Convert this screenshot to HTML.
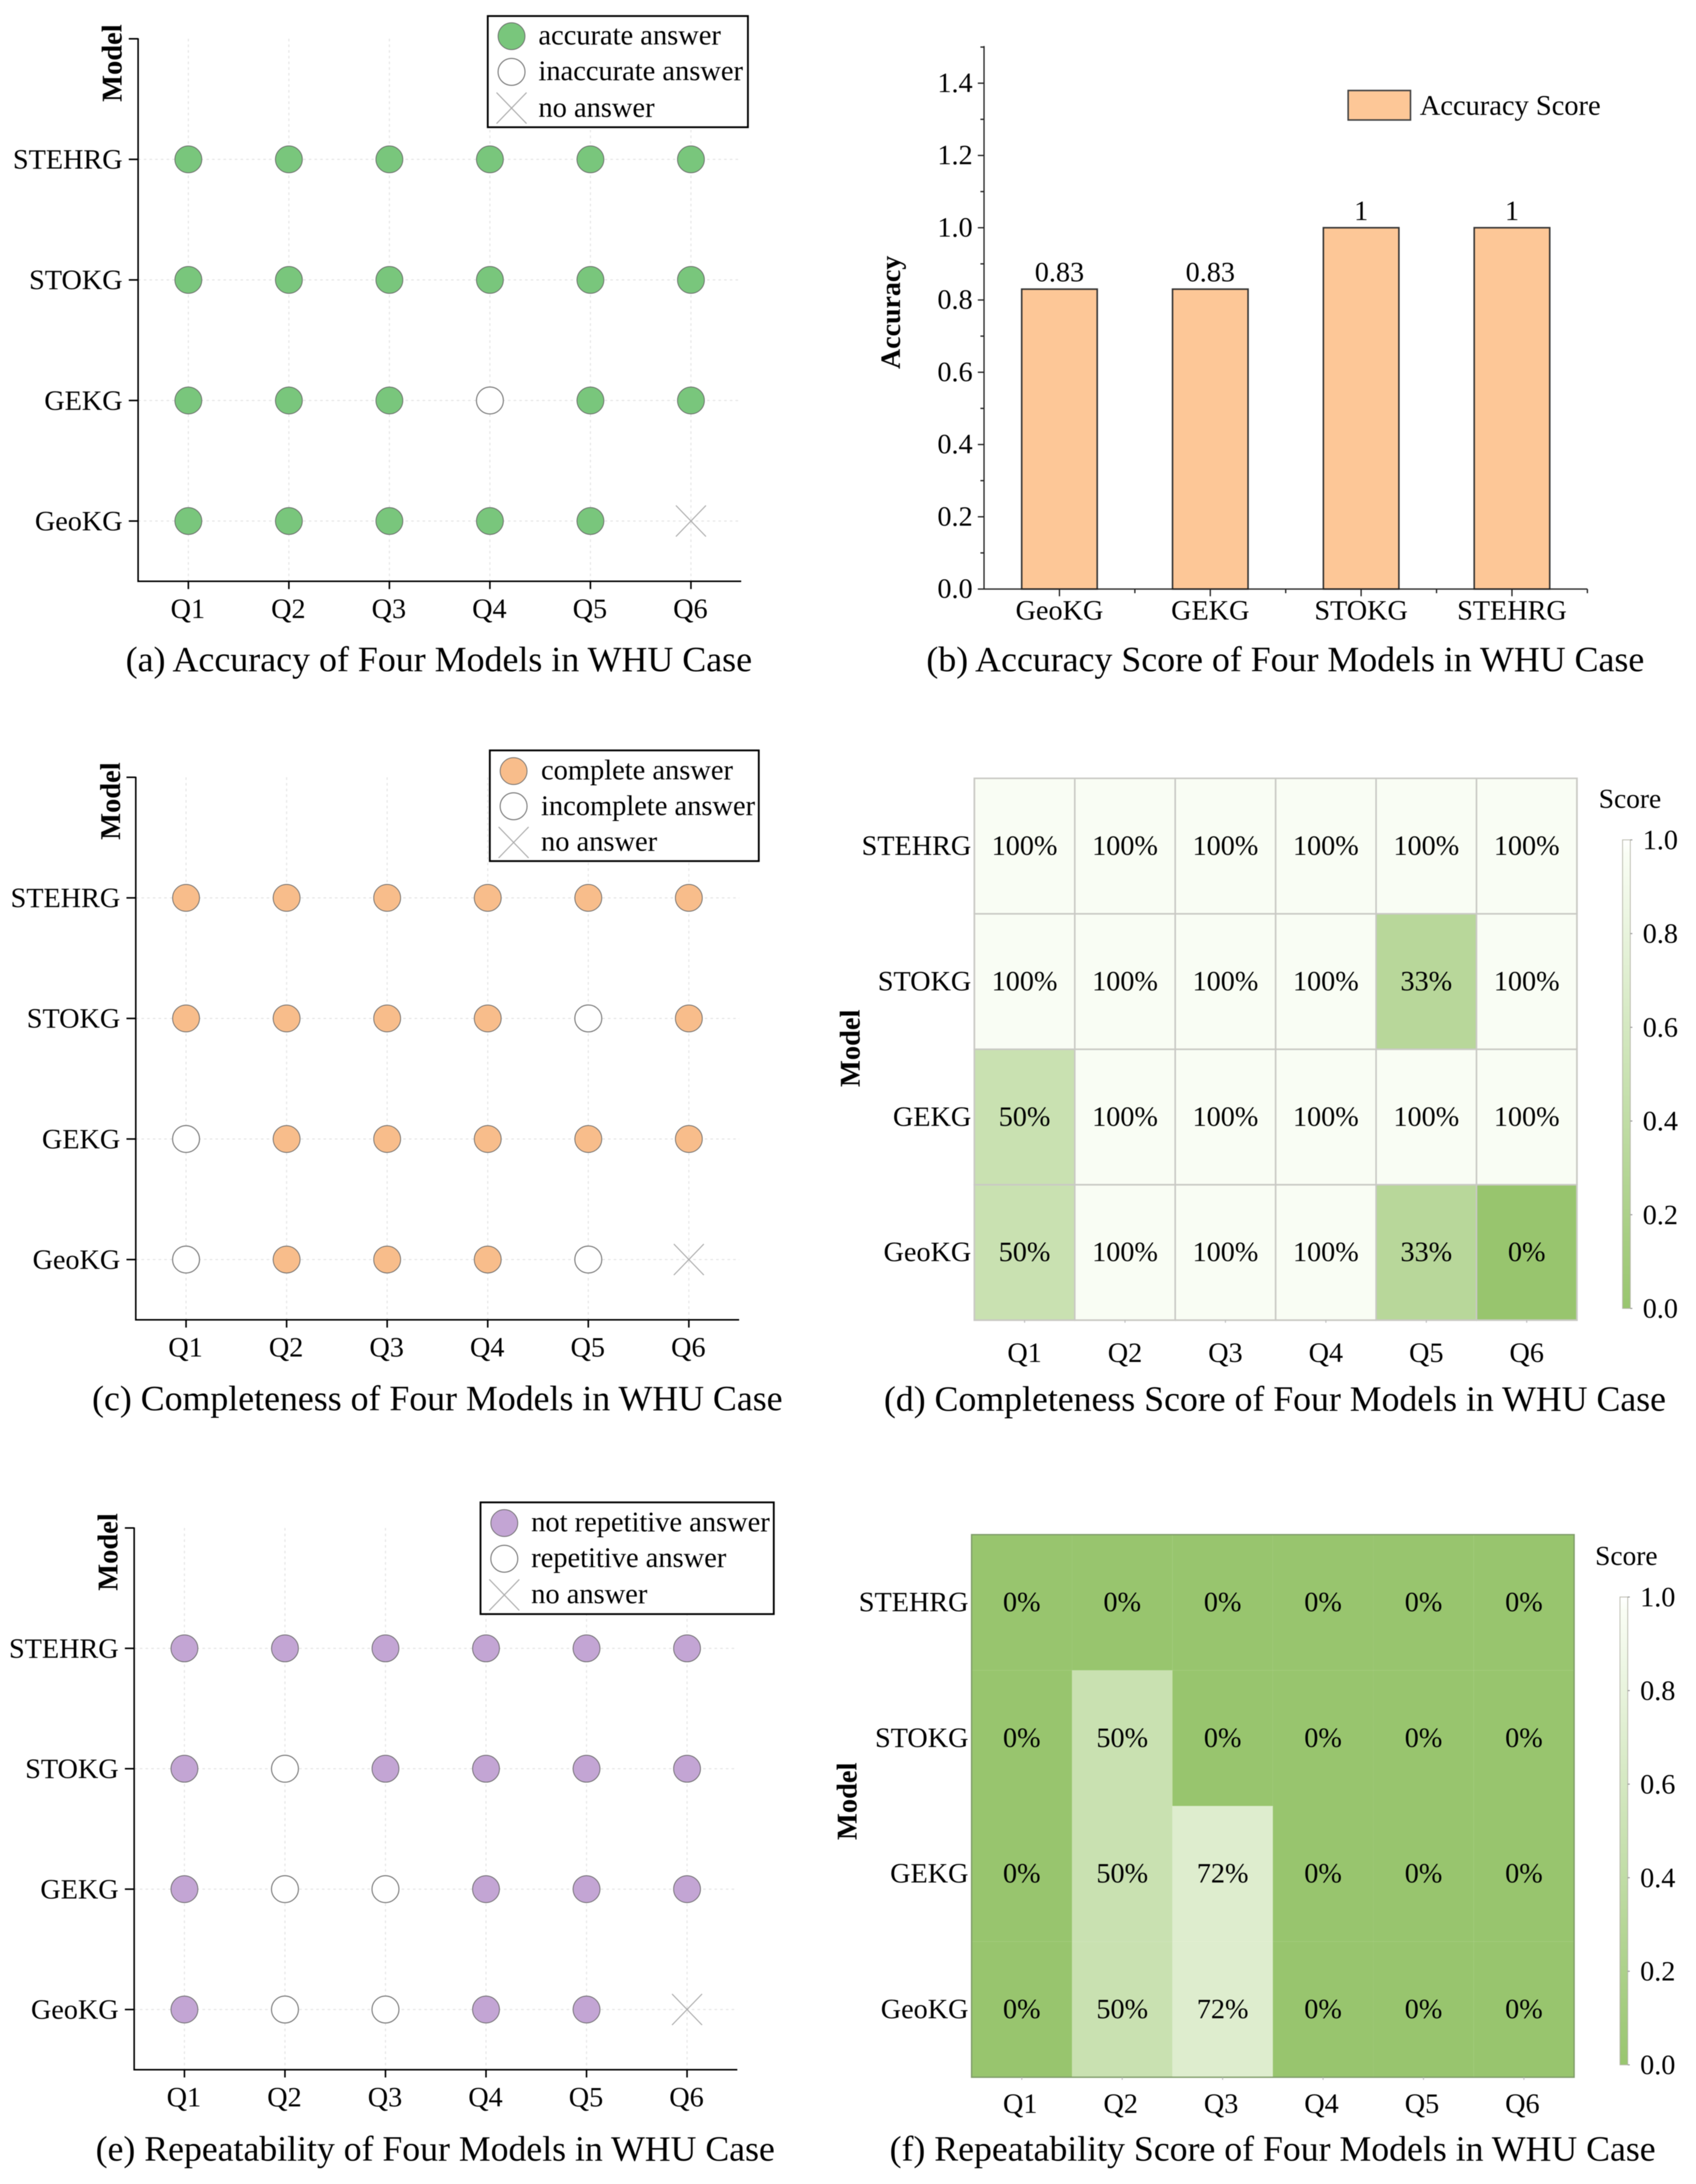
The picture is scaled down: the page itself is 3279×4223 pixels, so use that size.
<!DOCTYPE html>
<html lang="en">
<head>
<meta charset="utf-8">
<title>Evaluation of Four Models in WHU Case</title>
<style>
html,body{margin:0;padding:0;background:#fff;}
svg{display:block;filter:blur(0.7px);}
text{font-family:"Liberation Serif","DejaVu Serif",serif;fill:#000;}
.tick{font-size:54.5px;}
.cap{font-size:69px;}
.ttl{font-size:55px;font-weight:bold;}
.leg{font-size:55px;}
</style>
</head>
<body>
<svg id="figure" xmlns="http://www.w3.org/2000/svg" width="3279" height="4223" viewBox="0 0 3279 4223">
<defs>
<linearGradient id="score-gradient" x1="0" y1="1" x2="0" y2="0">
<stop offset="0" stop-color="#98c56e"/>
<stop offset="0.97" stop-color="#f9fdf4"/>
<stop offset="1" stop-color="#ffffff"/>
</linearGradient>
</defs>
<rect x="0" y="0" width="3279" height="4223" fill="#ffffff"/>

<g id="panel-a">
<text class="ttl" transform="translate(235,122) rotate(-90)" text-anchor="middle">Model</text>
<text class="cap" x="243" y="1298" textLength="1211" lengthAdjust="spacingAndGlyphs">(a) Accuracy of Four Models in WHU Case</text>
</g>
<g>
<rect x="943" y="31" width="503" height="215" fill="#fff" stroke="#000" stroke-width="3.5"/>
<circle cx="989" cy="70" r="26" fill="#79c67c" stroke="#666" stroke-width="1.5"/>
<text class="leg" x="1041" y="86">accurate answer</text>
<circle cx="989" cy="139" r="26" fill="#fff" stroke="#777" stroke-width="2"/>
<text class="leg" x="1041" y="155">inaccurate answer</text>
<path d="M960 179L1018 239M1018 179L960 239" stroke="#aaa" stroke-width="2" fill="none"/>
<text class="leg" x="1041" y="226">no answer</text>
</g>

<g id="panel-b">
<text class="ttl" transform="translate(1740,604) rotate(-90)" text-anchor="middle" style="font-size:54px">Accuracy</text>
<rect x="2606.5" y="175" width="120.5" height="57" fill="#fdc797" stroke="#444" stroke-width="3"/>
<text class="leg" x="2745" y="222">Accuracy Score</text>
<text class="cap" x="1791" y="1298" textLength="1388" lengthAdjust="spacingAndGlyphs">(b) Accuracy Score of Four Models in WHU Case</text>
</g>

<g id="panel-c">
<text class="ttl" transform="translate(232,1549) rotate(-90)" text-anchor="middle">Model</text>
<text class="cap" x="178" y="2727" textLength="1335" lengthAdjust="spacingAndGlyphs">(c) Completeness of Four Models in WHU Case</text>
</g>
<g>
<rect x="947" y="1451" width="520" height="214" fill="#fff" stroke="#000" stroke-width="3.5"/>
<circle cx="993" cy="1491" r="26" fill="#f8bd8b" stroke="#666" stroke-width="1.5"/>
<text class="leg" x="1046" y="1507">complete answer</text>
<circle cx="993" cy="1559" r="26" fill="#fff" stroke="#777" stroke-width="2"/>
<text class="leg" x="1046" y="1576">incomplete answer</text>
<path d="M964 1599L1022 1659M1022 1599L964 1659" stroke="#aaa" stroke-width="2" fill="none"/>
<text class="leg" x="1046" y="1645">no answer</text>
</g>

<g id="panel-d">
<text class="ttl" transform="translate(1662,2027) rotate(-90)" text-anchor="middle">Model</text>
<text class="tick" x="3091" y="1562" style="font-size:53px">Score</text>
<text class="cap" x="1709" y="2728" textLength="1512" lengthAdjust="spacingAndGlyphs">(d) Completeness Score of Four Models in WHU Case</text>
</g>

<g id="panel-e">
<text class="ttl" transform="translate(227,3001) rotate(-90)" text-anchor="middle">Model</text>
<text class="cap" x="185" y="4178" textLength="1313" lengthAdjust="spacingAndGlyphs">(e) Repeatability of Four Models in WHU Case</text>
</g>
<g>
<rect x="929" y="2905" width="567" height="216" fill="#fff" stroke="#000" stroke-width="3.5"/>
<circle cx="975" cy="2945" r="26" fill="#c3a5d4" stroke="#666" stroke-width="1.5"/>
<text class="leg" x="1027" y="2961">not repetitive answer</text>
<circle cx="975" cy="3014" r="26" fill="#fff" stroke="#777" stroke-width="2"/>
<text class="leg" x="1027" y="3030">repetitive answer</text>
<path d="M946 3054L1004 3114M1004 3054L946 3114" stroke="#aaa" stroke-width="2" fill="none"/>
<text class="leg" x="1027" y="3100">no answer</text>
</g>

<g id="panel-f">
<text class="ttl" transform="translate(1656,3483) rotate(-90)" text-anchor="middle">Model</text>
<text class="tick" x="3084" y="3026" style="font-size:53px">Score</text>
<text class="cap" x="1720" y="4178" textLength="1481" lengthAdjust="spacingAndGlyphs">(f) Repeatability Score of Four Models in WHU Case</text>
</g>
</svg>

<script>
const questions = ['Q1', 'Q2', 'Q3', 'Q4', 'Q5', 'Q6'];
const models = ['GeoKG', 'GEKG', 'STOKG', 'STEHRG'];

// answer status per model (same order as models): 1 = filled, 0 = open, -1 = no answer
const accuracyGeoKG = [1, 1, 1, 1, 1, -1];
const accuracyGEKG = [1, 1, 1, 0, 1, 1];
const accuracySTOKG = [1, 1, 1, 1, 1, 1];
const accuracySTEHRG = [1, 1, 1, 1, 1, 1];

const completeGeoKG = [0, 1, 1, 1, 0, -1];
const completeGEKG = [0, 1, 1, 1, 1, 1];
const completeSTOKG = [1, 1, 1, 1, 0, 1];
const completeSTEHRG = [1, 1, 1, 1, 1, 1];

const repeatGeoKG = [1, 0, 0, 1, 1, -1];
const repeatGEKG = [1, 0, 0, 1, 1, 1];
const repeatSTOKG = [1, 0, 1, 1, 1, 1];
const repeatSTEHRG = [1, 1, 1, 1, 1, 1];

// bar chart
const accuracyScores = [0.83, 0.83, 1, 1];
const accuracyPrinted = ['0.83', '0.83', '1', '1'];
const accuracyTicks = [0, 0.2, 0.4, 0.6, 0.8, 1.0, 1.2, 1.4];

// heatmaps, percent per model
const completenessGeoKG = [50, 100, 100, 100, 33, 0];
const completenessGEKG = [50, 100, 100, 100, 100, 100];
const completenessSTOKG = [100, 100, 100, 100, 33, 100];
const completenessSTEHRG = [100, 100, 100, 100, 100, 100];

const repeatabilityGeoKG = [0, 50, 72, 0, 0, 0];
const repeatabilityGEKG = [0, 50, 72, 0, 0, 0];
const repeatabilitySTOKG = [0, 50, 0, 0, 0, 0];
const repeatabilitySTEHRG = [0, 0, 0, 0, 0, 0];

const colorbarTicks = [0, 0.2, 0.4, 0.6, 0.8, 1.0];

const NS = 'http://www.w3.org/2000/svg';

function mk(parent, tag, attrs, text) {
  const node = document.createElementNS(NS, tag);
  for (const k in attrs) node.setAttribute(k, attrs[k]);
  if (text !== undefined) node.textContent = text;
  parent.appendChild(node);
  return node;
}

function scoreColor(v) {
  const lo = [152, 197, 110], hi = [249, 253, 244];
  const c = lo.map(function (l, i) { return Math.round(l + (hi[i] - l) * v); });
  return 'rgb(' + c.join(',') + ')';
}

function drawDotPanel(panelId, rows, fill, box) {
  const g = document.getElementById(panelId);
  const xPos = function (i) { return box.left + (i + 0.5) * (box.right - box.left) / questions.length; };
  const yPos = function (i) { return box.bottom - (i + 0.5) * (box.bottom - box.top) / (models.length + 0.5); };

  questions.forEach(function (q, i) {
    const grid = mk(g, 'line', { x1: xPos(i), x2: xPos(i), y1: box.top, y2: box.bottom, stroke: '#e4e4e4', 'stroke-width': 2, 'stroke-dasharray': '5 6' });
    
    
    const tick = mk(g, 'line', { x1: xPos(i), x2: xPos(i), y1: box.bottom, y2: box.bottom + 15, stroke: '#000', 'stroke-width': 3 });
    
    
    const label = mk(g, 'text', { class: 'tick', x: xPos(i) - 1, y: box.bottom + 71, 'text-anchor': 'middle' }, q);
    
    
  });

  models.forEach(function (m, i) {
    const grid = mk(g, 'line', { x1: box.left, x2: box.right, y1: yPos(i), y2: yPos(i), stroke: '#e4e4e4', 'stroke-width': 2, 'stroke-dasharray': '5 6' });
    
    
    const tick = mk(g, 'line', { x1: box.left - 18, x2: box.left, y1: yPos(i), y2: yPos(i), stroke: '#000', 'stroke-width': 3 });
    
    
    const label = mk(g, 'text', { class: 'tick', x: box.left - 30, y: yPos(i) + 18, 'text-anchor': 'end' }, m);
    
    
  });

  const topTick = mk(g, 'line', { x1: box.left - 18, x2: box.left, y1: box.top, y2: box.top, stroke: '#000', 'stroke-width': 3 });
  
  

  const yAxis = mk(g, 'line', { x1: box.left, x2: box.left, y1: box.top - 1, y2: box.bottom + 1.5, stroke: '#000', 'stroke-width': 3 });
  
  
  const xAxis = mk(g, 'line', { x1: box.left, x2: box.right, y1: box.bottom, y2: box.bottom, stroke: '#000', 'stroke-width': 3 });
  
  

  rows.forEach(function (row, r) {
    row.forEach(function (status, c) {
      const cx = xPos(c), cy = yPos(r);
      if (status < 0) {
        const cross = mk(g, 'path', { d: 'M' + (cx - 29) + ' ' + (cy - 30) + 'L' + (cx + 29) + ' ' + (cy + 30) + 'M' + (cx + 29) + ' ' + (cy - 30) + 'L' + (cx - 29) + ' ' + (cy + 30), stroke: '#aaa', 'stroke-width': 2, fill: 'none' });
        
        
      } else {
        const dot = mk(g, 'circle', { cx: cx, cy: cy, r: 26, fill: status === 1 ? fill : '#ffffff', stroke: status === 1 ? '#666' : '#777', 'stroke-width': status === 1 ? 1.5 : 2 });
        
        
      }
    });
  });
}

function drawBarPanel() {
  const g = document.getElementById('panel-b');
  const left = 1902.5, right = 3069, zero = 1139, top = 91;
  const yVal = function (v) { return zero - v * (zero - top) / 1.5; };
  const band = (right - left) / models.length;
  const xBand = function (i) { return left + (i + 0.5) * band; };

  models.forEach(function (m, i) {
    const bar = mk(g, 'rect', { x: xBand(i) - 73, y: yVal(accuracyScores[i]), width: 146, height: zero - yVal(accuracyScores[i]), fill: '#fdc797', stroke: '#333', 'stroke-width': 3 });
    
    
    const value = mk(g, 'text', { class: 'tick', x: xBand(i), y: yVal(accuracyScores[i]) - 15, 'text-anchor': 'middle' }, accuracyPrinted[i]);
    
    
    const tick = mk(g, 'line', { x1: xBand(i), x2: xBand(i), y1: zero, y2: zero + 14, stroke: '#222', 'stroke-width': 2.5 });
    
    
    const label = mk(g, 'text', { class: 'tick', x: xBand(i), y: zero + 59, 'text-anchor': 'middle' }, m);
    
    
    const minor = mk(g, 'line', { x1: xBand(i) + band / 2, x2: xBand(i) + band / 2, y1: zero, y2: zero + 8, stroke: '#222', 'stroke-width': 2.5 });
    
    
  });

  accuracyTicks.forEach(function (v) {
    const tick = mk(g, 'line', { x1: left - 12, x2: left, y1: yVal(v), y2: yVal(v), stroke: '#222', 'stroke-width': 2.5 });
    
    
    const minor = mk(g, 'line', { x1: left - 7, x2: left, y1: yVal(v + 0.1), y2: yVal(v + 0.1), stroke: '#222', 'stroke-width': 2.5 });
    
    
    const label = mk(g, 'text', { class: 'tick', x: left - 22, y: yVal(v) + 17, 'text-anchor': 'end' }, v.toFixed(1));
    
    
  });

  const yAxis = mk(g, 'line', { x1: left, x2: left, y1: top - 2, y2: zero + 1, stroke: '#222', 'stroke-width': 2.5 });
  
  
  const xAxis = mk(g, 'line', { x1: left, x2: right, y1: zero, y2: zero, stroke: '#222', 'stroke-width': 2.5 });
  
  
}

function drawHeatPanel(panelId, rows, box, bar, gridColor) {
  const g = document.getElementById(panelId);
  const colW = (box.right - box.left) / questions.length;
  const rowH = (box.bottom - box.top) / models.length;
  const xCol = function (i) { return box.left + i * colW; };
  const yRow = function (i) { return box.bottom - (i + 1) * rowH; };

  rows.forEach(function (row, r) {
    row.forEach(function (v, c) {
      const cellAttrs = { x: xCol(c), y: yRow(r), width: colW, height: rowH, fill: scoreColor(v / 100) };
      if (gridColor) { cellAttrs.stroke = gridColor; cellAttrs['stroke-width'] = 3; }
      const cell = mk(g, 'rect', cellAttrs);
      
      
    });
  });

  const frame = mk(g, 'rect', { x: box.left, y: box.top, width: box.right - box.left, height: box.bottom - box.top, fill: 'none', stroke: gridColor || '#7d9a68', 'stroke-width': gridColor ? 3 : 2.5 });
  
  

  rows.forEach(function (row, r) {
    row.forEach(function (v, c) {
      const label = mk(g, 'text', { class: 'tick', x: xCol(c) + colW / 2, y: yRow(r) + rowH / 2 + 17, 'text-anchor': 'middle' }, v + '%');
      
      
    });
  });

  questions.forEach(function (q, i) {
    const tick = mk(g, 'line', { x1: xCol(i) + colW / 2, x2: xCol(i) + colW / 2, y1: box.bottom, y2: box.bottom + 5, stroke: '#bbb', 'stroke-width': 2 });
    
    
    const label = mk(g, 'text', { class: 'tick', x: xCol(i) + colW / 2 + box.labelDx, y: box.bottom + box.labelDy, 'text-anchor': 'middle' }, q);
    
    
  });

  models.forEach(function (m, i) {
    const label = mk(g, 'text', { class: 'tick', x: box.left - 6, y: yRow(i) + rowH / 2 + 17, 'text-anchor': 'end' }, m);
    
    
  });

  const cb = mk(g, 'rect', { x: bar.x, y: bar.top, width: 15, height: bar.bottom - bar.top, fill: 'url(#score-gradient)', stroke: '#b5b5a8', 'stroke-width': 1.5 });
  
  
  colorbarTicks.forEach(function (v) {
    const y = bar.bottom - v * (bar.bottom - bar.top);
    const tick = mk(g, 'line', { x1: bar.x + 15, x2: bar.x + 19, y1: y, y2: y, stroke: '#999', 'stroke-width': 2 });
    
    
    const label = mk(g, 'text', { class: 'tick', x: bar.x + 39, y: y + 18 }, v.toFixed(1));
    
    
  });
}

drawDotPanel('panel-a', [accuracyGeoKG, accuracyGEKG, accuracySTOKG, accuracySTEHRG], '#79c67c', { left: 267, right: 1433, top: 75, bottom: 1124 });
drawDotPanel('panel-c', [completeGeoKG, completeGEKG, completeSTOKG, completeSTEHRG], '#f8bd8b', { left: 262.5, right: 1429, top: 1503, bottom: 2552 });
drawDotPanel('panel-e', [repeatGeoKG, repeatGEKG, repeatSTOKG, repeatSTEHRG], '#c3a5d4', { left: 259.4, right: 1425.5, top: 2954.5, bottom: 4002 });
drawBarPanel();
drawHeatPanel('panel-d', [completenessGeoKG, completenessGEKG, completenessSTOKG, completenessSTEHRG], { left: 1883.8, right: 3048.8, top: 1505, bottom: 2552.7, labelDx: 0, labelDy: 81 }, { x: 3137, top: 1624, bottom: 2530 }, '#c9c9c4');
drawHeatPanel('panel-f', [repeatabilityGeoKG, repeatabilityGEKG, repeatabilitySTOKG, repeatabilitySTEHRG], { left: 1878.4, right: 3043.4, top: 2967.4, bottom: 4016.6, labelDx: -3, labelDy: 69 }, { x: 3132, top: 3088, bottom: 3992.6 }, null);
</script>
</body>
</html>
